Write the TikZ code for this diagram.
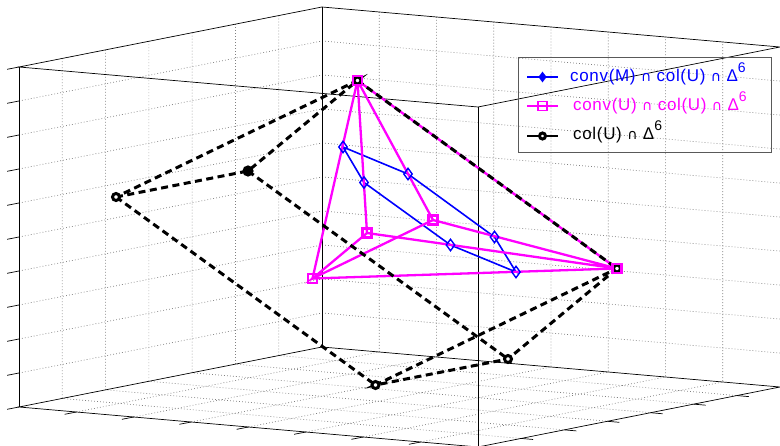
\documentclass[tikz,border=0pt]{standalone}
\usepackage{fontspec}
\setmainfont{Liberation Sans}
\newfontfamily\capfont{DejaVu Sans}
\usetikzlibrary{calc, shapes.geometric}

\definecolor{mblue}{rgb}{0,0,1}
\definecolor{mmag}{rgb}{1,0,1}

\newcommand{\capsym}{{\capfont\fontsize{14}{14}\selectfont ∩}}
\newcommand{\simplex}{Δ\raisebox{9pt}{\fontsize{14}{14}\selectfont 6}}

\tikzset{
  boxline/.style={line width=0.7pt, black},
  gridline/.style={line width=0.7pt, black!50, dash pattern=on 0.8pt off 2.2pt},
  tickline/.style={line width=0.7pt, black},
  cvM/.style={line width=1.6pt, mblue},
  cvU/.style={line width=2.3pt, mmag},
  colU/.style={line width=3pt, black, dash pattern=on 7pt off 4.5pt},
  dmark/.style={diamond, draw=mblue, line width=1.4pt, inner sep=0pt, minimum width=9pt, minimum height=12pt},
  smark/.style={rectangle, draw=mmag, line width=2.2pt, inner sep=0pt, minimum size=9pt},
  cmark/.style={circle, draw=black, line width=3pt, inner sep=0pt, minimum size=7pt},
  keytext/.style={anchor=base west, inner sep=0pt,
    font=\fontsize{17}{20}\selectfont\addfontfeature{LetterSpace=4}}
}

\begin{document}
\begin{tikzpicture}[x=1pt,y=-1pt]
\useasboundingbox (0,0) rectangle (780,446);

\coordinate (lb) at (19,407);
\coordinate (bb) at (322,347);
\coordinate (fb) at (478,447);
\coordinate (rb) at (780,387);
\coordinate (lt) at (19,67);
\coordinate (bt) at (322,7);
\coordinate (ft) at (478,107);
\coordinate (rt) at (780,47);

\foreach \k in {1,...,9}
  \draw [gridline] ($(lb)!\k/10!(lt)$) -- ($(bb)!\k/10!(bt)$) -- ($(rb)!\k/10!(rt)$);
\foreach \j in {1,...,6}
  \draw [gridline] ($(lt)!\j/7!(bt)$) -- ($(lb)!\j/7!(bb)$) -- ($(fb)!\j/7!(rb)$);
\foreach \i in {1,...,7}
  \draw [gridline] ($(lb)!\i/8!(fb)$) -- ($(bb)!\i/8!(rb)$) -- ($(bt)!\i/8!(rt)$);

\draw [boxline] (lb) -- (bb) -- (rb) -- (fb) -- cycle;
\draw [boxline] (lt) -- (bt) -- (rt) -- (ft) -- cycle;
\draw [boxline] (lb) -- (lt) (bb) -- (bt) (fb) -- (ft);

\foreach \k in {0,...,10}
  \draw [tickline] ($(lb)!\k/10!(lt)$) -- ++(-11.8,2.3);
\foreach \i in {1,...,8}
  \draw [tickline] ($(lb)!\i/8!(fb)$) -- ++(-11.8,2.3);
\foreach \j in {0,...,7}
  \draw [tickline] ($(fb)!\j/7!(rb)$) -- ++(12,1.05);

\coordinate (p1) at (116,197);
\coordinate (p2) at (248,171);
\coordinate (p3) at (357.5,80.5);
\coordinate (p4) at (617,268.5);
\coordinate (p5) at (508,359);
\coordinate (p6) at (375.5,385);

\coordinate (q3) at (312.5,278.5);
\coordinate (q4) at (367,233);
\coordinate (q5) at (433,220);

\coordinate (r1) at (343,147);
\coordinate (r2) at (364,182.5);
\coordinate (r3) at (408,174);
\coordinate (r4) at (450.5,245);
\coordinate (r5) at (494.5,237);
\coordinate (r6) at (516,272);

\draw [cvM] (r1) -- (r3) -- (r5) -- (r6) -- (r4) -- (r2) -- cycle;

\draw [cvU] (p3) -- (q3) -- (p4) -- cycle;
\draw [cvU] (p3) -- (q4) -- (p4) (p3) -- (q5) -- (p4);
\draw [cvU] (q4) -- (q3) -- (q5);

\draw [colU] (p1) -- (p2) -- (p3) -- cycle;
\draw [colU] (p4) -- (p5) -- (p6) -- cycle;
\draw [colU] (p1) -- (p6) (p2) -- (p5) (p3) -- (p4);

\foreach \n in {1,...,6}
  \node [dmark] (rm\n) at (r\n) {};
\node [cmark, fill=white] (pm1) at (p1) {};
\node [cmark, fill=black, minimum size=8pt] (pm2) at (p2) {};
\node [cmark, fill=white] (pm3) at (p3) {};
\node [cmark, fill=white] (pm4) at (p4) {};
\node [cmark, fill=white] (pm5) at (p5) {};
\node [cmark, fill=white] (pm6) at (p6) {};
\node [smark] (qm1) at (p3) {};
\node [smark] (qm2) at (p4) {};
\foreach \n in {3,4,5}
  \node [smark] (qm\n) at (q\n) {};

\draw [line width=0.8pt, black!65] (518,57) rectangle (771,152);

\coordinate (ka1) at (527,77);   \coordinate (kb1) at (558,77);
\coordinate (ka2) at (527,106);  \coordinate (kb2) at (558,106);
\coordinate (ka3) at (527,136);  \coordinate (kb3) at (558,136);

\draw [cvM] (ka1) -- (kb1);
\node [dmark, fill=mblue, minimum width=7pt, minimum height=9pt] (km1) at ($(ka1)!0.5!(kb1)$) {};
\draw [line width=1.5pt, mmag] (ka2) -- (kb2);
\node [smark, line width=1.4pt] (km2) at ($(ka2)!0.5!(kb2)$) {};
\draw [line width=2.8pt] (ka3) -- (kb3);
\node [cmark, fill=white, minimum size=6pt] (km3) at ($(ka3)!0.5!(kb3)$) {};

\node [keytext, text=mblue] (key1) at (570,82)  {conv(M) \capsym\ col(U) \capsym\ \simplex};
\node [keytext, text=mmag]  (key2) at (573,111) {conv(U) \capsym\ col(U) \capsym\ \simplex};
\node [keytext]             (key3) at (573,140) {col(U) \capsym\ \simplex};

\end{tikzpicture}
\end{document}
